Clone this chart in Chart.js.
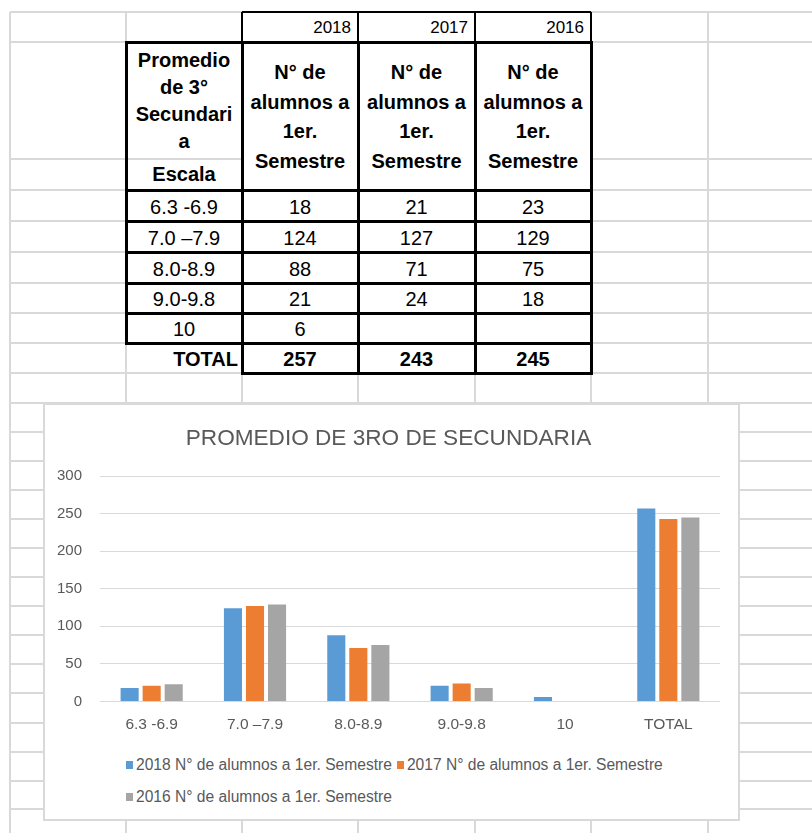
<!DOCTYPE html>
<html>
<head>
<meta charset="utf-8">
<title>Promedio de 3ro de secundaria</title>
<script src="https://cdn.jsdelivr.net/npm/chart.js@4.4.1/dist/chart.umd.min.js"></script>
<style>
  html, body { margin: 0; padding: 0; background: #fff; }
  body { width: 812px; height: 833px; position: relative; overflow: hidden;
         font-family: "Liberation Sans", Arial, sans-serif; }
  .ln { position: absolute; }
  .cell { position: absolute; display: flex; align-items: center; justify-content: center;
          text-align: center; color: #000; box-sizing: border-box; white-space: nowrap; font-size: 20px; }
  .bold { font-weight: bold; }
  #chart-box { position: absolute; left: 43px; top: 403px; width: 697px; height: 418px;
               background: #fff; box-shadow: inset 0 0 0 2px #d9d9d9; }
  #canvas-wrap { position: absolute; left: 0; top: 0; width: 697px; height: 345px; }
  #legend { position: absolute; left: 83px; top: 346px; width: 600px; display: flex; flex-wrap: wrap;
            color: #595959; font-size: 15.6px; line-height: 32px; }
  .lg-item { display: inline-flex; align-items: center; margin-right: 5px; white-space: nowrap; }
  .lg-box { width: 7px; height: 8px; margin-right: 3px; }
</style>
</head>
<body>
<div id="sheet"></div>
<div id="chart-box">
  <div id="canvas-wrap"><canvas id="chart"></canvas></div>
  <div id="legend"></div>
</div>
<script>
// --- data read from the sheet ---
const categories = ['6.3 -6.9', '7.0 –7.9', '8.0-8.9', '9.0-9.8', '10', 'TOTAL'];
const years = ['2018', '2017', '2016'];
const alumnos2018 = [18, 124, 88, 21, 6, 257];
const alumnos2017 = [21, 127, 71, 24, null, 243];
const alumnos2016 = [23, 129, 75, 18, null, 245];
const seriesLabel = 'N° de alumnos a 1er. Semestre';
const headerLines = ['N° de', 'alumnos a', '1er.', 'Semestre'];
const firstHeaderLines = ['Promedio', 'de 3°', 'Secundari', 'a'];
const escalaLabel = 'Escala';
const yTicks = [0, 50, 100, 150, 200, 250, 300];
const chartTitle = 'PROMEDIO DE 3RO DE SECUNDARIA';

const seriesData = [alumnos2018, alumnos2017, alumnos2016];
const barColors = ['#5B9BD5', '#ED7D31', '#A5A5A5'];
const FONT = '"Liberation Sans", Arial, sans-serif';

// --- spreadsheet grid ---
const colX = [10, 126, 242, 358, 475, 591, 708];
const rowY = [12, 42, 159, 190, 221, 252, 283, 313, 343, 373, 403, 432, 461, 490, 519,
              548, 577, 606, 635, 664, 693, 723, 752, 781, 809, 838];
const sheet = document.getElementById('sheet');

function rect(x, y, w, h, color) {
    const d = document.createElement('div');
    d.className = 'ln';
    Object.assign(d.style, { left: x + 'px', top: y + 'px', width: w + 'px', height: h + 'px', background: color });
    sheet.appendChild(d);
}
function cell(x1, y1, x2, y2, html, opts) {
    opts = opts || {};
    const d = document.createElement('div');
    d.className = 'cell' + (opts.bold ? ' bold' : '');
    Object.assign(d.style, { left: x1 + 'px', top: y1 + 'px', width: (x2 - x1) + 'px', height: (y2 - y1) + 'px' });
    if (opts.align === 'right') { d.style.justifyContent = 'flex-end'; d.style.paddingRight = (opts.padRight || 5) + 'px'; }
    if (opts.size) d.style.fontSize = opts.size + 'px';
    if (opts.lh) d.style.lineHeight = opts.lh + 'px';
    if (opts.padTop) d.style.paddingTop = opts.padTop + 'px';
    d.innerHTML = html;
    sheet.appendChild(d);
}

const GRID = '#d9d9d9';
rowY.forEach(y => rect(10, y - 1, 802, 2, GRID));
colX.forEach(x => rect(x - 1, 12, 2, 821, GRID));

// merged header cells (2018..2016) hide the gridline inside
rect(243, 43, 347, 146, '#fff');

// year row
years.forEach((yr, i) => cell(colX[2 + i], 12, colX[3 + i], 42, yr, { align: 'right', size: 17, padRight: 7, padTop: 2 }));

// header
cell(126, 42, 242, 159, firstHeaderLines.join('<br>'), { bold: true, lh: 27 });
cell(126, 159, 242, 190, escalaLabel, { bold: true });
years.forEach((yr, i) => cell(colX[2 + i], 42, colX[3 + i], 190, headerLines.join('<br>'), { bold: true, lh: 29.5, padTop: 2 }));

// body rows (all but TOTAL)
const nRows = categories.length - 1;
for (let r = 0; r < nRows; r++) {
    const y1 = rowY[3 + r], y2 = rowY[4 + r];
    cell(126, y1, 242, y2, categories[r], { padTop: 3 });
    seriesData.forEach((s, i) => cell(colX[2 + i], y1, colX[3 + i], y2, s[r] == null ? '' : s[r], { padTop: 3 }));
}
// TOTAL row
const tr = categories.length - 1;
cell(126, rowY[8], 242, rowY[9], categories[tr], { bold: true, align: 'right', padRight: 4, padTop: 3 });
seriesData.forEach((s, i) => cell(colX[2 + i], rowY[8], colX[3 + i], rowY[9], s[tr], { bold: true, padTop: 3 }));

// black borders
const THIN = 1.5, BOLD = 3;
rect(242, 12 - THIN / 2, 349, THIN, '#000');
[242, 358, 475, 591].forEach(x => rect(x - THIN / 2, 12, THIN, 30, '#000'));
rect(126 - BOLD / 2, 42 - BOLD / 2, BOLD, 343 - 42 + BOLD, '#000');
[242, 358, 475, 591].forEach(x => rect(x - BOLD / 2, 42 - BOLD / 2, BOLD, 373 - 42 + BOLD, '#000'));
[42, 190, 221, 252, 283, 313, 343].forEach(y => rect(126 - BOLD / 2, y - BOLD / 2, 591 - 126 + BOLD, BOLD, '#000'));
rect(242 - BOLD / 2, 373 - BOLD / 2, 591 - 242 + BOLD, BOLD, '#000');

// --- chart ---
const chart = new Chart(document.getElementById('chart'), {
    type: 'bar',
    data: {
        labels: categories,
        datasets: years.map((yr, i) => ({
            label: `${yr} ${seriesLabel}`,
            data: seriesData[i],
            backgroundColor: barColors[i],
            categoryPercentage: 0.64,
            barPercentage: 0.82
        }))
    },
    options: {
        responsive: true,
        maintainAspectRatio: false,
        animation: false,
        layout: { padding: { left: 14, right: 20, top: 0, bottom: 0 } },
        plugins: {
            legend: { display: false },
            tooltip: { enabled: false },
            title: {
                display: true,
                text: chartTitle,
                color: '#595959',
                font: { family: FONT, size: 22.6, weight: 'normal' },
                padding: { top: 22, bottom: 24 }
            }
        },
        scales: {
            x: {
                grid: { display: false, drawTicks: false },
                border: { display: false },
                ticks: { color: '#595959', font: { family: FONT, size: 15.5 }, padding: 14, maxRotation: 0 }
            },
            y: {
                min: 0,
                max: 300,
                afterBuildTicks: axis => { axis.ticks = yTicks.map(v => ({ value: v })); },
                afterFit: axis => { axis.width = 43; },
                grid: { color: '#d9d9d9', lineWidth: 1, drawTicks: false },
                border: { display: false },
                ticks: { color: '#595959', font: { family: FONT, size: 15 }, padding: 18 }
            }
        }
    }
});

// legend (Excel style: wraps and starts from the left)
const legendEl = document.getElementById('legend');
chart.data.datasets.forEach(ds => {
    const item = document.createElement('span');
    item.className = 'lg-item';
    item.innerHTML = `<span class="lg-box" style="background:${ds.backgroundColor}"></span>${ds.label}`;
    legendEl.appendChild(item);
});
</script>
</body>
</html>
